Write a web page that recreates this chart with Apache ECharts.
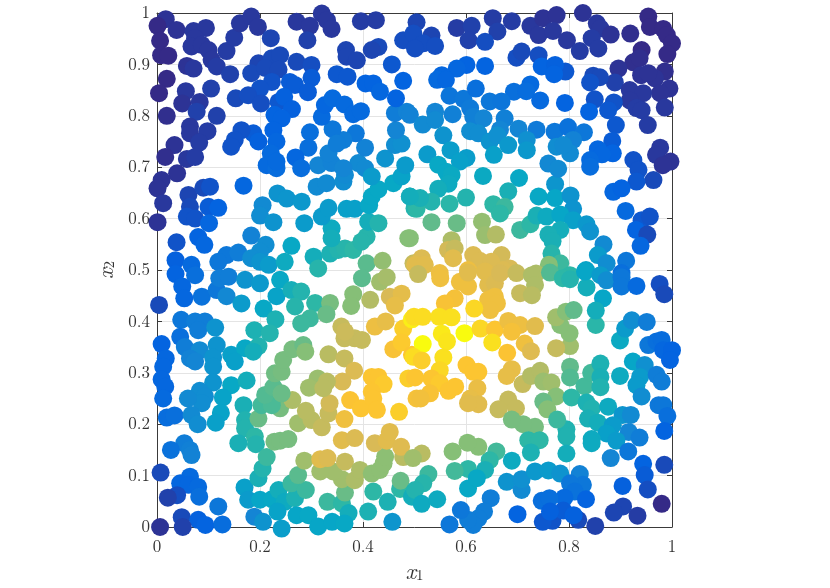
<!DOCTYPE html>
<html><head><meta charset="utf-8">
<style>html,body{margin:0;padding:0;background:#fff}#c{width:830px;height:588px}</style>
<script src="https://cdn.jsdelivr.net/npm/echarts@6/dist/echarts.min.js"></script>
</head><body><div id="c"></div>
<script>
const xTickLabels=[0,0.2,0.4,0.6,0.8,1];
const yTickLabels=[0,0.1,0.2,0.3,0.4,0.5,0.6,0.7,0.8,0.9,1];
const parulaStops=['#352a87','#0363e1','#1485d4','#06a7c6','#2db7a6','#8abf75','#d9ba56','#fcc332','#f9fb0e'];
// each point: [x1, x2, colour level]
const upperLeft=[[.017,.988,.02],[.001,.975,0],[.038,.967,.02],[.071,.965,.03],[.095,.971,.03],[.074,.951,.03],[.067,.935,.03],[.087,.938,.03],[.006,.946,0],[.008,.918,0],[.022,.917,0],[.1,.928,.03],[.135,.926,.04],[.15,.952,.04],[.161,.98,.03],[.183,.993,.03],[.196,.973,.03],[.221,.951,.06],[.271,.983,.03],[.297,.975,.03],[.32,.999,.03],[.33,.986,.03],[.339,.969,.03],[.292,.947,.05],[.396,.984,.04],[.425,.986,.04],[.367,.928,.06],[.368,.915,.06],[.388,.908,.06],[.43,.934,.07],[.417,.928,.06],[.478,.947,.08],[.456,.9,.1],[.058,.897,.02],[.071,.892,.03],[.106,.909,.03],[.116,.896,.04],[.142,.881,.05],[.019,.872,0],[.004,.844,0],[.056,.848,.03],[.105,.853,.05],[.049,.824,.02],[.083,.827,.03],[.077,.808,.05],[.116,.8,.05],[.019,.8,.01],[.197,.902,.06],[.183,.883,.07],[.223,.912,.07],[.239,.918,.07],[.21,.893,.07],[.236,.89,.07],[.271,.905,.07],[.3,.899,.08],[.349,.881,.1],[.37,.876,.1],[.3,.874,.11],[.258,.866,.11],[.223,.866,.09],[.2,.853,.09],[.153,.834,.07],[.177,.84,.08],[.202,.824,.08],[.268,.86,.11],[.293,.846,.11],[.236,.827,.1],[.247,.837,.12],[.262,.813,.12],[.228,.802,.13],[.242,.795,.13],[.226,.772,.13],[.232,.75,.14],[.187,.766,.11],[.197,.75,.12],[.164,.772,.09],[.151,.753,.09],[.144,.74,.09],[.064,.779,.03],[.064,.766,.03],[.098,.77,.04],[.082,.748,.04],[.034,.743,.02],[.016,.72,.01],[.058,.716,.03],[.074,.72,.04],[.039,.688,.02],[.009,.675,.02],[.001,.659,.02],[.012,.63,.03],[.061,.646,.06],[.09,.66,.07],[.103,.662,.09],[.168,.664,.14],[.064,.623,.07],[.1,.623,.11],[.119,.621,.13],[.058,.604,.09],[.074,.6,.09],[.101,.591,.14],[.001,.593,.02],[.08,.564,.13],[.092,.549,.14],[.038,.554,.09],[.036,.519,.12],[.067,.51,.15],[.135,.529,.2],[.119,.516,.2],[.158,.534,.22],[.183,.567,.24],[.211,.549,.28],[.2,.536,.28],[.183,.523,.28],[.2,.516,.3],[.217,.51,.33],[.261,.547,.38],[.248,.516,.4],[.304,.526,.42],[.313,.503,.48],[.336,.532,.45],[.352,.539,.47],[.365,.542,.48],[.381,.539,.5],[.407,.565,.48],[.397,.555,.48],[.41,.594,.42],[.43,.591,.47],[.339,.581,.4],[.339,.562,.42],[.286,.591,.33],[.32,.604,.33],[.333,.621,.33],[.368,.619,.35],[.384,.619,.35],[.412,.626,.38],[.417,.643,.38],[.43,.657,.38],[.459,.669,.38],[.475,.682,.36],[.482,.704,.33],[.491,.643,.42],[.5,.62,.47],[.488,.562,.62],[.407,.513,.56],[.438,.518,.64],[.498,.513,.72],[.31,.662,.27],[.329,.669,.27],[.362,.672,.28],[.365,.685,.27],[.391,.708,.27],[.404,.698,.27],[.417,.682,.33],[.313,.704,.25],[.339,.708,.24],[.333,.727,.24],[.362,.698,.25],[.443,.717,.3],[.462,.743,.28],[.475,.746,.29],[.464,.772,.25],[.462,.805,.22],[.485,.808,.24],[.404,.738,.24],[.386,.766,.2],[.362,.753,.22],[.341,.774,.2],[.349,.746,.22],[.297,.768,.17],[.294,.738,.17],[.269,.719,.14],[.28,.698,.16],[.221,.727,.15],[.213,.704,.15],[.232,.698,.16],[.232,.711,.15],[.32,.798,.15],[.326,.821,.14],[.341,.834,.15],[.364,.822,.15],[.381,.803,.15],[.396,.809,.15],[.405,.863,.13],[.42,.863,.13],[.433,.847,.14],[.464,.834,.13],[.478,.868,.13],[.205,.626,.27],[.2,.606,.28],[.226,.593,.3],[.234,.649,.3],[.252,.639,.31],[.281,.633,.32]];
const upperRight=[[.504,.982,.06],[.498,.96,.08],[.533,.956,.06],[.517,.941,.08],[.501,.931,.08],[.54,.936,.08],[.582,.971,.04],[.611,.975,.05],[.652,.99,.04],[.689,.984,.04],[.661,.964,.05],[.605,.947,.05],[.637,.944,.08],[.725,.975,.03],[.75,.99,.02],[.776,.996,.02],[.741,.957,.03],[.769,.965,.03],[.796,.947,.03],[.827,1,.02],[.854,.98,.03],[.861,.97,.03],[.881,.958,.02],[.844,.951,.04],[.821,.926,.04],[.857,.931,.04],[.919,.96,.01],[.954,.993,0],[.957,.973,0],[.983,.969,0],[.99,.957,0],[1,.941,0],[.941,.928,0],[.991,.92,0],[.925,.904,.01],[.937,.912,.01],[.896,.892,.02],[.94,.879,.02],[.986,.886,.01],[.967,.873,.02],[.954,.883,.02],[.995,.853,.02],[.977,.844,.02],[.889,.865,.05],[.847,.878,.07],[.86,.875,.07],[.841,.865,.09],[.918,.85,.03],[.944,.844,.03],[.918,.83,.03],[.931,.815,.04],[.941,.811,.04],[.986,.816,.03],[.85,.832,.09],[.887,.826,.09],[.876,.811,.1],[.839,.808,.13],[.891,.782,.1],[.953,.782,.04],[.884,.751,.11],[.856,.735,.14],[.885,.727,.13],[.864,.725,.14],[.841,.714,.15],[.841,.701,.16],[.977,.738,.03],[.969,.724,.03],[.997,.711,.02],[.982,.704,.02],[.925,.714,.09],[.935,.695,.09],[.964,.675,.07],[.931,.672,.1],[.886,.652,.14],[.902,.659,.13],[.91,.615,.15],[.941,.597,.1],[.957,.604,.09],[.93,.578,.13],[.952,.569,.07],[.939,.547,.14],[.867,.55,.27],[.856,.529,.33],[.873,.513,.28],[.911,.518,.2],[.902,.494,.17],[.833,.5,.36],[.793,.886,.1],[.698,.913,.08],[.708,.925,.07],[.741,.918,.08],[.747,.896,.13],[.773,.899,.12],[.771,.881,.13],[.637,.897,.13],[.601,.899,.13],[.582,.892,.14],[.553,.879,.14],[.544,.87,.15],[.561,.87,.14],[.568,.839,.19],[.595,.833,.2],[.619,.853,.17],[.646,.828,.2],[.693,.847,.17],[.725,.861,.15],[.717,.848,.16],[.669,.828,.19],[.744,.83,.15],[.792,.825,.13],[.54,.808,.25],[.491,.802,.24],[.574,.803,.23],[.608,.815,.21],[.614,.798,.23],[.634,.795,.25],[.675,.795,.23],[.516,.783,.27],[.54,.792,.27],[.608,.77,.28],[.624,.766,.28],[.666,.773,.25],[.702,.775,.25],[.737,.773,.21],[.556,.762,.3],[.646,.75,.3],[.661,.762,.29],[.682,.743,.32],[.718,.753,.29],[.718,.733,.32],[.57,.733,.34],[.525,.725,.33],[.654,.724,.35],[.601,.718,.34],[.588,.711,.35],[.546,.705,.38],[.562,.691,.38],[.572,.685,.39],[.633,.683,.39],[.703,.679,.38],[.566,.668,.4],[.546,.658,.42],[.682,.653,.44],[.741,.643,.38],[.773,.667,.31],[.76,.707,.26],[.779,.697,.27],[.772,.769,.2],[.798,.778,.18],[.829,.768,.2],[.808,.753,.24],[.776,.74,.28],[.802,.727,.27],[.789,.743,.27],[.773,.64,.37],[.803,.645,.3],[.808,.619,.3],[.6,.641,.47],[.568,.629,.49],[.533,.633,.47],[.504,.619,.5],[.511,.64,.44],[.491,.643,.42],[.653,.628,.5],[.675,.623,.52],[.666,.61,.5],[.533,.593,.57],[.582,.591,.58],[.631,.594,.64],[.637,.568,.65],[.658,.569,.69],[.705,.578,.52],[.725,.589,.5],[.737,.606,.44],[.756,.604,.4],[.783,.608,.37],[.808,.597,.35],[.834,.589,.32],[.841,.575,.3],[.783,.578,.42],[.76,.569,.44],[.768,.556,.44],[.766,.532,.48],[.783,.513,.52],[.761,.51,.62],[.491,.562,.62],[.572,.558,.68],[.565,.539,.74],[.578,.542,.72],[.575,.523,.78],[.614,.529,.76],[.669,.529,.74],[.514,.523,.76],[.501,.51,.78],[.52,.51,.78],[.627,.518,.76],[.604,.5,.82],[.649,.516,.76],[.685,.503,.75],[.672,.5,.76],[.549,.494,.82],[.736,.493,.68],[.802,.49,.5]];
const lowerLeft=[[.036,.492,.13],[.074,.49,.17],[.049,.468,.14],[.053,.445,.14],[.087,.448,.18],[.116,.461,.2],[.135,.449,.26],[.121,.484,.22],[.139,.487,.22],[.004,.432,.07],[.164,.435,.33],[.171,.481,.3],[.2,.474,.32],[.232,.449,.36],[.239,.481,.38],[.261,.461,.43],[.28,.458,.47],[.207,.425,.38],[.268,.429,.48],[.23,.404,.45],[.307,.436,.5],[.336,.436,.6],[.297,.406,.52],[.329,.414,.58],[.28,.396,.52],[.381,.453,.62],[.377,.43,.62],[.398,.484,.56],[.433,.477,.66],[.446,.486,.67],[.414,.442,.69],[.452,.448,.75],[.475,.454,.79],[.462,.431,.8],[.423,.39,.82],[.444,.4,.8],[.478,.386,.9],[.047,.403,.2],[.074,.4,.22],[.093,.4,.22],[.08,.383,.22],[.113,.388,.3],[.045,.37,.17],[.009,.356,.13],[.054,.35,.22],[.083,.344,.27],[.116,.354,.3],[.144,.335,.35],[.171,.348,.38],[.189,.383,.45],[.219,.377,.47],[.197,.352,.46],[.187,.341,.42],[.017,.328,.14],[.012,.312,.14],[.064,.328,.24],[.074,.322,.25],[.109,.33,.3],[.151,.322,.35],[.109,.312,.3],[.009,.287,.14],[.016,.273,.14],[.012,.25,.15],[.019,.213,.16],[.034,.217,.17],[.109,.281,.3],[.144,.276,.38],[.174,.285,.42],[.083,.265,.28],[.093,.254,.28],[.087,.241,.28],[.06,.25,.27],[.128,.252,.36],[.067,.218,.27],[.124,.222,.36],[.114,.203,.35],[.079,.2,.28],[.168,.237,.44],[.171,.208,.46],[.171,.192,.47],[.158,.163,.44],[.19,.176,.5],[.192,.161,.47],[.053,.163,.22],[.064,.15,.23],[.027,.15,.18],[.067,.14,.24],[.007,.106,.07],[.064,.098,.15],[.045,.085,.14],[.061,.082,.14],[.08,.078,.15],[.082,.059,.17],[.039,.062,.08],[.021,.057,.05],[.119,.04,.2],[.048,.019,.07],[.08,.014,.12],[.094,.004,.13],[.05,0,.05],[.127,.005,.16],[.006,0,.02],[.17,.077,.35],[.177,.053,.33],[.197,.095,.44],[.205,.114,.47],[.213,.136,.52],[.189,.02,.25],[.206,.01,.3],[.242,-.003,.34],[.2,.053,.37],[.223,.054,.38],[.236,.072,.42],[.248,.049,.4],[.234,.03,.36],[.268,.056,.45],[.271,.023,.37],[.261,.085,.52],[.289,.072,.52],[.294,.023,.38],[.274,.101,.56],[.313,.001,.37],[.331,.049,.52],[.359,.046,.5],[.372,.027,.42],[.34,.01,.37],[.364,.007,.38],[.41,.03,.45],[.457,.01,.31],[.448,.049,.45],[.42,.069,.5],[.472,.074,.5],[.473,.09,.58],[.495,.059,.42],[.365,.067,.58],[.359,.093,.66],[.384,.091,.68],[.342,.108,.66],[.317,.108,.66],[.286,.129,.66],[.365,.127,.72],[.394,.111,.68],[.417,.104,.63],[.433,.111,.63],[.44,.124,.63],[.443,.137,.63],[.478,.136,.7],[.317,.132,.78],[.331,.134,.76],[.228,.166,.6],[.239,.168,.6],[.255,.171,.6],[.359,.169,.78],[.384,.173,.76],[.423,.163,.75],[.446,.168,.78],[.452,.185,.78],[.474,.156,.77],[.274,.202,.66],[.3,.208,.7],[.32,.194,.72],[.289,.226,.7],[.333,.221,.72],[.335,.241,.74],[.364,.21,.83],[.197,.211,.58],[.239,.231,.6],[.203,.237,.53],[.223,.237,.54],[.263,.247,.68],[.21,.257,.55],[.226,.272,.56],[.242,.26,.58],[.229,.299,.59],[.242,.302,.6],[.245,.325,.6],[.263,.346,.6],[.284,.354,.58],[.288,.341,.62],[.333,.336,.7],[.364,.328,.72],[.383,.304,.76],[.36,.283,.75],[.312,.289,.65],[.295,.271,.66],[.33,.283,.7],[.323,.27,.7],[.375,.247,.87],[.396,.231,.88],[.417,.292,.88],[.43,.292,.88],[.44,.278,.89],[.417,.263,.88],[.42,.25,.88],[.427,.228,.88],[.47,.224,.9],[.459,.346,.86],[.475,.359,.89],[.495,.404,.97],[.495,.335,.88],[.488,.289,.9],[.504,.25,.85],[.358,.39,.72],[.364,.367,.72],[.384,.367,.72],[.398,.364,.72],[.365,.38,.73]];
const lowerRight=[[.507,.492,.72],[.55,.484,.83],[.588,.477,.83],[.604,.468,.83],[.604,.495,.78],[.637,.497,.78],[.643,.471,.78],[.656,.474,.76],[.666,.494,.75],[.698,.494,.72],[.728,.49,.68],[.734,.471,.68],[.705,.455,.72],[.728,.451,.7],[.763,.495,.55],[.788,.484,.5],[.802,.482,.47],[.834,.466,.42],[.831,.497,.37],[.861,.49,.33],[.873,.48,.28],[.902,.486,.2],[.902,.468,.2],[.931,.469,.15],[.976,.473,.08],[.985,.453,.07],[.866,.445,.37],[.578,.445,.85],[.559,.435,.86],[.656,.448,.83],[.643,.442,.83],[.66,.435,.83],[.647,.422,.83],[.616,.425,.92],[.499,.409,.93],[.516,.409,.93],[.548,.409,.94],[.572,.408,.94],[.597,.377,1],[.553,.376,.96],[.563,.361,.95],[.516,.356,1],[.628,.386,.92],[.656,.384,.88],[.682,.401,.82],[.705,.393,.82],[.689,.38,.85],[.734,.391,.78],[.651,.359,.94],[.714,.357,.83],[.726,.342,.77],[.68,.339,.87],[.556,.33,.94],[.498,.331,.93],[.514,.324,.9],[.601,.315,.88],[.549,.305,.92],[.614,.302,.88],[.624,.302,.88],[.533,.289,.88],[.689,.307,.8],[.679,.294,.8],[.501,.291,.88],[.549,.28,.89],[.566,.265,.88],[.579,.273,.88],[.622,.27,.81],[.53,.26,.86],[.512,.25,.84],[.608,.25,.8],[.624,.239,.78],[.604,.241,.78],[.682,.248,.72],[.663,.229,.72],[.697,.231,.72],[.71,.278,.72],[.726,.294,.69],[.744,.304,.69],[.75,.283,.65],[.766,.281,.66],[.802,.352,.66],[.775,.348,.72],[.801,.377,.62],[.783,.393,.62],[.775,.408,.66],[.794,.419,.62],[.809,.422,.57],[.802,.312,.57],[.802,.291,.55],[.83,.274,.53],[.843,.3,.53],[.861,.318,.45],[.861,.292,.44],[.861,.272,.46],[.899,.294,.4],[.852,.393,.49],[.852,.421,.42],[.899,.363,.39],[.909,.386,.33],[.922,.402,.28],[.951,.399,.22],[.924,.322,.37],[.947,.315,.29],[.938,.292,.33],[.931,.276,.33],[.941,.254,.28],[.97,.296,.22],[.98,.283,.22],[.954,.354,.2],[.97,.361,.17],[.98,.364,.16],[.983,.344,.14],[1,.344,.13],[.996,.325,.13],[.974,.237,.2],[.983,.237,.2],[.991,.216,.17],[.985,.187,.13],[.775,.254,.62],[.75,.244,.58],[.758,.229,.62],[.805,.252,.5],[.834,.242,.45],[.844,.231,.46],[.837,.211,.44],[.856,.203,.42],[.876,.234,.4],[.904,.218,.31],[.92,.218,.27],[.885,.198,.33],[.916,.185,.25],[.873,.182,.35],[.937,.174,.22],[.892,.168,.33],[.844,.171,.4],[.844,.163,.4],[.795,.19,.46],[.795,.176,.46],[.777,.209,.52],[.795,.143,.42],[.734,.195,.6],[.711,.2,.6],[.689,.209,.6],[.721,.169,.5],[.743,.169,.5],[.726,.145,.45],[.915,.147,.2],[.881,.134,.25],[.689,.129,.4],[.659,.147,.53],[.646,.13,.5],[.637,.111,.44],[.604,.113,.5],[.578,.109,.53],[.624,.156,.62],[.603,.164,.62],[.574,.147,.62],[.514,.143,.7],[.497,.134,.66],[.527,.103,.52],[.517,.085,.48],[.501,.072,.47],[.514,.045,.4],[.544,.054,.4],[.604,.075,.38],[.621,.095,.38],[.679,.088,.3],[.708,.072,.27],[.708,.093,.29],[.734,.108,.32],[.76,.11,.33],[.783,.104,.3],[.821,.103,.24],[.827,.082,.2],[.802,.085,.2],[.811,.069,.18],[.791,.057,.15],[.833,.054,.13],[.747,.051,.17],[.762,.056,.17],[.904,.08,.12],[.944,.123,.13],[.947,.101,.11],[.953,.073,.08],[.985,.121,.07],[.98,.045,0],[.905,.04,.06],[.887,.028,.06],[.933,.022,.04],[.851,.002,.05],[.818,.014,.07],[.768,.012,.09],[.749,.01,.1],[.789,.032,.11],[.809,.023,.12],[.763,.03,.12],[.7,.025,.13],[.648,.056,.22],[.635,.03,.22],[.624,.017,.22],[.614,.004,.22],[.604,.014,.22],[.59,.033,.2],[.568,.005,.2]];

const FONT='"Latin Modern Roman","CMU Serif","Liberation Serif",serif';
const INK='#333333';
const chart=echarts.init(document.getElementById('c'),null,{renderer:'canvas'});
function axisBase(extra){return Object.assign({type:'value',min:0,max:1,
  axisLine:{show:true,onZero:false,lineStyle:{color:'#3a3a3a',width:1}},
  axisTick:{show:true,inside:true,length:5,lineStyle:{color:'#3a3a3a',width:1}}},extra);}
const nameRich={i:{fontFamily:FONT,fontStyle:'italic',fontSize:23,color:INK},s:{fontFamily:FONT,fontSize:15,color:INK,padding:[8,0,0,0]}};
const labelStyle={show:true,fontFamily:FONT,fontSize:17,color:INK,formatter:v=>String(v)};
chart.setOption({
  animation:false,backgroundColor:'#fff',
  grid:{left:157,top:13,width:515,height:514,containLabel:false,outerBoundsMode:'none'},
  visualMap:{show:false,type:'continuous',dimension:2,min:0,max:1,seriesIndex:0,inRange:{color:parulaStops}},
  xAxis:[
    axisBase({position:'bottom',interval:xTickLabels[1],name:'{i|x}{s|1}',nameLocation:'middle',nameGap:33,nameTextStyle:{rich:nameRich},
      axisLabel:Object.assign({margin:11},labelStyle),splitLine:{show:true,lineStyle:{color:'#e4e4e4',width:1}}}),
    axisBase({position:'top',interval:xTickLabels[1],axisLabel:{show:false},splitLine:{show:false}})
  ],
  yAxis:[
    axisBase({position:'left',interval:yTickLabels[1],name:'{i|x}{s|2}',nameLocation:'middle',nameGap:39,nameRotate:90,nameTextStyle:{rich:nameRich},
      axisLabel:Object.assign({margin:7},labelStyle),splitLine:{show:true,lineStyle:{color:'#e4e4e4',width:1}}}),
    axisBase({position:'right',interval:yTickLabels[1],axisLabel:{show:false},splitLine:{show:false}})
  ],
  series:[{type:'scatter',symbol:'circle',symbolSize:18,clip:false,progressive:0,large:false,
    itemStyle:{opacity:1},
    data:[].concat(upperLeft,upperRight,lowerLeft,lowerRight)}]
});
</script></body></html>
